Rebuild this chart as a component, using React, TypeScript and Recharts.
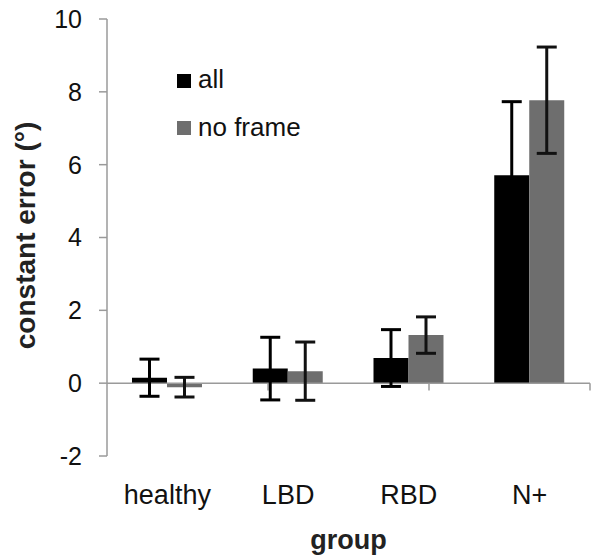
import React from 'react';
import { BarChart, Bar, XAxis, YAxis, ErrorBar, ReferenceLine, Legend } from 'recharts';

const categories = ['healthy', 'LBD', 'RBD', 'N+'];
const allValues = [0.15, 0.4, 0.69, 5.71];
const allErrors = [0.51, 0.86, 0.78, 2.02];
const noFrameValues = [-0.11, 0.33, 1.32, 7.77];
const noFrameErrors = [0.27, 0.8, 0.5, 1.46];
const yTicks = [-2, 0, 2, 4, 6, 8, 10];
const boundaries = [1, 2, 3, 4];

const data = categories.map((group, i) => ({
  group,
  all: allValues[i],
  allErr: allErrors[i],
  noFrame: noFrameValues[i],
  noFrameErr: noFrameErrors[i],
}));

const FONT = '"Liberation Sans", Arial, sans-serif';
const AXIS_GRAY = '#9a9a9a';
const BAR_GRAY = '#6e6e6e';

const YLabel = (props: any) => {
  const vb = props.viewBox || { x: 0, y: 19, width: 107, height: 437 };
  const cx = vb.x + 35;
  const cy = vb.y + vb.height / 2 - 2;
  return (
    <text
      x={cx}
      y={cy}
      transform={`rotate(-90 ${cx} ${cy})`}
      textAnchor="middle"
      fontFamily={FONT}
      fontSize={28}
      fontWeight="bold"
      fill="#222"
    >
      constant error (°)
    </text>
  );
};

const renderLegend = (props: any) => {
  const payload = props.payload || [];
  return (
    <svg width={160} height={90} style={{ display: 'block' }}>
      {payload.map((entry: any, i: number) => (
        <g key={i}>
          <rect x={7} y={14 + i * 47} width={14} height={14} fill={entry.color} />
          <text x={28} y={28 + i * 48} fontFamily={FONT} fontSize={26} fill="#111">
            {entry.value}
          </text>
        </g>
      ))}
    </svg>
  );
};

export default function App() {
  return (
    <div style={{ position: 'absolute', left: 0, top: 0, background: '#fff' }}>
      <BarChart
        width={591}
        height={560}
        data={data}
        margin={{ top: 19, right: 1, left: 0, bottom: 0 }}
        barCategoryGap="20.7%"
        barGap={0}
      >
        <XAxis
          dataKey="group"
          axisLine={false}
          tickLine={false}
          tickSize={0}
          tickMargin={29}
          height={104}
          tick={{ fontSize: 27, fontFamily: FONT, fill: '#111' }}
          label={{
            value: 'group',
            position: 'insideBottom',
            offset: 11,
            fontSize: 27,
            fontWeight: 'bold',
            fontFamily: FONT,
            fill: '#222',
          }}
        />
        <XAxis xAxisId="b" type="number" domain={[0, 4]} hide />
        <YAxis
          domain={[-2, 10]}
          ticks={yTicks}
          interval={0}
          width={107}
          axisLine={{ stroke: AXIS_GRAY, strokeWidth: 1.5 }}
          tickLine={{ stroke: AXIS_GRAY, strokeWidth: 1.5 }}
          tickSize={8}
          tickMargin={17}
          tick={{ fontSize: 25, fontFamily: FONT, fill: '#111' }}
          label={<YLabel />}
        />
        <ReferenceLine y={0} stroke={AXIS_GRAY} strokeWidth={1.5} />
        {boundaries.map((b) => (
          <ReferenceLine
            key={b}
            xAxisId="b"
            segment={[
              { x: b, y: 0 },
              { x: b, y: -0.2 },
            ]}
            stroke={AXIS_GRAY}
            strokeWidth={1.5}
          />
        ))}
        <Legend
          content={renderLegend}
          layout="horizontal"
          verticalAlign="middle"
          align="center"
          wrapperStyle={{ position: 'absolute', left: 170, top: 60, width: 160, height: 90 }}
        />
        <Bar dataKey="all" name="all" fill="#000" isAnimationActive={false}>
          <ErrorBar dataKey="allErr" width={10} stroke="#000" strokeWidth={3} />
        </Bar>
        <Bar dataKey="noFrame" name="no frame" fill={BAR_GRAY} isAnimationActive={false}>
          <ErrorBar dataKey="noFrameErr" width={10} stroke="#111" strokeWidth={3} />
        </Bar>
      </BarChart>
    </div>
  );
}
